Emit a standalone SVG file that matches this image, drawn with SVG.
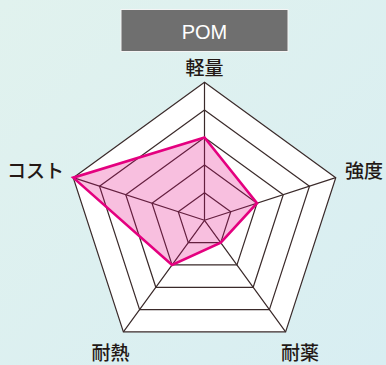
<svg xmlns="http://www.w3.org/2000/svg" width="386" height="365" viewBox="0 0 386 365">
  <defs>
    <linearGradient id="bg" x1="0" y1="0" x2="1" y2="1">
      <stop offset="0" stop-color="#e1f2ee"/>
      <stop offset="1" stop-color="#d8eef2"/>
    </linearGradient>
    <style>
      .grid { fill: none; stroke: #3a2a2a; stroke-width: 1.2; stroke-linejoin: miter; }
      .lbl { font-family: "Noto Sans CJK JP", "Noto Sans", sans-serif; font-size: 19px; font-weight: 500; fill: #231815; text-anchor: middle; }
    </style>
  </defs>
  <rect x="0" y="0" width="386" height="365" fill="url(#bg)"/>
  <g id="title">
    <rect x="121" y="9.5" width="167" height="42" fill="#6f6f6f" stroke="#f4f4f4" stroke-width="1"/>
    <text x="204.5" y="39" font-family="Liberation Sans, Arial, sans-serif" font-size="20" fill="#ffffff" text-anchor="middle">POM</text>
  </g>
  <g id="chart">
    <polygon points="204.5,82.3 335.75,177.66 285.61,331.94 123.39,331.94 73.25,177.66" fill="#ffffff"/>
    <g id="grid" class="grid">
      <polygon points="204.5,82.3 335.75,177.66 285.61,331.94 123.39,331.94 73.25,177.66"/>
      <polygon points="204.5,109.9 309.5,186.18 269.39,309.62 139.61,309.62 99.5,186.18"/>
      <polygon points="204.5,137.5 283.25,194.71 253.17,287.29 155.83,287.29 125.75,194.71"/>
      <polygon points="204.5,165.1 257,203.24 236.95,264.96 172.05,264.96 152,203.24"/>
      <polygon points="204.5,192.7 230.75,211.77 220.72,242.63 188.28,242.63 178.25,211.77"/>
      <path d="M204.5,220.3 L204.5,82.3 M204.5,220.3 L335.75,177.66 M204.5,220.3 L285.61,331.94 M204.5,220.3 L123.39,331.94 M204.5,220.3 L73.25,177.66"/>
    </g>
    <g id="data">
      <polygon points="204.5,137.5 257,203.24 220.72,242.63 172.05,264.96 73.25,177.66" fill="#e4007f" fill-opacity="0.25" stroke="#e4007f" stroke-width="2.6" stroke-linejoin="miter"/>
    </g>
  </g>
  <g id="labels">
    <g id="label-light"><text class="lbl" x="204.5" y="75">軽量</text></g>
    <g id="label-strength"><text class="lbl" x="364" y="178">強度</text></g>
    <g id="label-chem"><text class="lbl" x="300" y="360">耐薬</text></g>
    <g id="label-heat"><text class="lbl" x="110.5" y="360">耐熱</text></g>
    <g id="label-cost"><text class="lbl" x="35.5" y="178">コスト</text></g>
  </g>
</svg>
